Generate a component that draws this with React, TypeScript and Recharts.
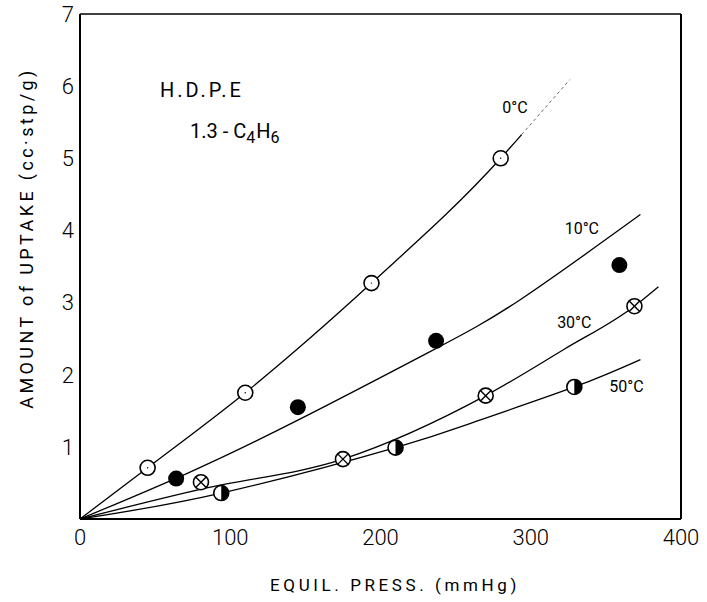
import React from 'react';
import {
  ComposedChart,
  Line,
  Scatter,
  XAxis,
  YAxis,
  ReferenceLine,
  ReferenceDot,
} from 'recharts';

type Pt = { x: number; y: number };

const pressureTicks = [0, 100, 200, 300, 400];
const uptakeTicks = [1, 2, 3, 4, 5, 6, 7];

// measured points (mmHg, cc stp/g)
const points0C: Pt[] = [
  { x: 45, y: 0.71 },
  { x: 110, y: 1.75 },
  { x: 194, y: 3.27 },
  { x: 280, y: 5.0 },
];
const points10C: Pt[] = [
  { x: 64, y: 0.56 },
  { x: 145, y: 1.55 },
  { x: 237, y: 2.47 },
  { x: 359, y: 3.52 },
];
const points30C: Pt[] = [
  { x: 80.5, y: 0.51 },
  { x: 175, y: 0.83 },
  { x: 270, y: 1.71 },
  { x: 369, y: 2.95 },
];
const points50C: Pt[] = [
  { x: 94, y: 0.36 },
  { x: 210, y: 0.99 },
  { x: 329, y: 1.83 },
];

// drawn isotherm curves
const curve0C: Pt[] = [
  { x: 0, y: 0 },
  { x: 45, y: 0.71 },
  { x: 110, y: 1.75 },
  { x: 194, y: 3.27 },
  { x: 280, y: 5.0 },
  { x: 294, y: 5.33 },
];
const curve0CExtra: Pt[] = [
  { x: 294, y: 5.33 },
  { x: 326, y: 6.09 },
];
const curve10C: Pt[] = [
  { x: 0, y: 0 },
  { x: 71, y: 0.63 },
  { x: 145, y: 1.37 },
  { x: 233, y: 2.32 },
  { x: 293, y: 3.04 },
  { x: 373, y: 4.22 },
];
const curve30C: Pt[] = [
  { x: 0, y: 0 },
  { x: 82, y: 0.42 },
  { x: 175, y: 0.83 },
  { x: 270, y: 1.71 },
  { x: 322, y: 2.35 },
  { x: 369, y: 2.95 },
  { x: 385, y: 3.22 },
];
const curve50C: Pt[] = [
  { x: 0, y: 0 },
  { x: 94, y: 0.36 },
  { x: 210, y: 0.99 },
  { x: 266, y: 1.37 },
  { x: 329, y: 1.83 },
  { x: 373, y: 2.21 },
];

const FONT = 'Roboto, "Liberation Sans", sans-serif';
const R = 7.5;

const OpenMark = ({ cx, cy }: any) => (
  <g>
    <circle cx={cx} cy={cy} r={R} fill="#fff" stroke="#000" strokeWidth={1.6} />
    <circle cx={cx} cy={cy} r={0.7} fill="#000" />
  </g>
);

const FilledMark = ({ cx, cy }: any) => <circle cx={cx} cy={cy} r={R + 0.5} fill="#000" />;

const CrossMark = ({ cx, cy }: any) => {
  const d = R * 0.7;
  return (
    <g>
      <circle cx={cx} cy={cy} r={R} fill="#fff" stroke="#000" strokeWidth={1.6} />
      <line x1={cx - d} y1={cy - d} x2={cx + d} y2={cy + d} stroke="#000" strokeWidth={1.4} />
      <line x1={cx - d} y1={cy + d} x2={cx + d} y2={cy - d} stroke="#000" strokeWidth={1.4} />
    </g>
  );
};

const HalfMark = ({ cx, cy }: any) => (
  <g>
    <circle cx={cx} cy={cy} r={R} fill="#fff" stroke="#000" strokeWidth={1.6} />
    <path d={`M${cx},${cy - R} A${R},${R} 0 0 1 ${cx},${cy + R} Z`} fill="#000" />
  </g>
);

const textLabel = (text: string, size = 16) => ({ cx, cy }: any) => (
  <text
    x={cx}
    y={cy}
    textAnchor="middle"
    dominantBaseline="central"
    fontSize={size}
    fontFamily={FONT}
    fill="#000"
  >
    {text}
  </text>
);

const hdpeLabel = ({ cx, cy }: any) => (
  <text x={cx} y={cy} fontSize={20} fontFamily={FONT} letterSpacing={3} fill="#000">
    H.D.P.E
  </text>
);

const formulaLabel = ({ cx, cy }: any) => (
  <text x={cx} y={cy} fontSize={20} fontFamily={FONT} fill="#000">
    <tspan>1.3 - C</tspan>
    <tspan fontSize={16} dy={5}>4</tspan>
    <tspan dy={-5} dx={1}>H</tspan>
    <tspan fontSize={16} dy={5}>6</tspan>
  </text>
);

const YTitle = ({ viewBox }: any) => {
  const x = viewBox.x + 6;
  const y = viewBox.y + 224;
  return (
    <text
      x={x}
      y={y}
      transform={`rotate(-90, ${x}, ${y})`}
      textAnchor="middle"
      dominantBaseline="central"
      fontSize={18}
      letterSpacing={3.4}
      fontFamily={FONT}
      fill="#000"
    >
      AMOUNT of UPTAKE (cc·stp/g)
    </text>
  );
};

const XTitle = ({ viewBox }: any) => (
  <text
    x={viewBox.x + 315}
    y={viewBox.y + 72}
    textAnchor="middle"
    fontSize={17}
    letterSpacing={3.6}
    fontFamily={FONT}
    fill="#000"
  >
    EQUIL. PRESS. (mmHg)
  </text>
);

const curveProps = {
  type: 'natural' as const,
  dataKey: 'y',
  stroke: '#000',
  strokeWidth: 1.3,
  dot: false,
  activeDot: false,
  isAnimationActive: false,
};

export default function App() {
  return (
    <div style={{ position: 'absolute', left: 0, top: 0, width: 707, height: 602, background: '#fff' }}>
      <ComposedChart width={707} height={602} margin={{ top: 14, right: 26, left: 20, bottom: 24 }}>
        <XAxis
          type="number"
          dataKey="x"
          domain={[0, 400]}
          ticks={pressureTicks}
          allowDataOverflow
          height={59}
          tickSize={0}
          tickMargin={10}
          tickLine={false}
          axisLine={{ stroke: '#000', strokeWidth: 2 }}
          tick={{ fill: '#000', fontSize: 22, fontFamily: FONT, fontWeight: 300 }}
          label={{ content: XTitle }}
        />
        <YAxis
          type="number"
          dataKey="y"
          domain={[0, 7]}
          ticks={uptakeTicks}
          allowDataOverflow
          width={60}
          tickSize={0}
          tickMargin={6}
          tickLine={false}
          axisLine={{ stroke: '#000', strokeWidth: 2 }}
          tick={{ fill: '#000', fontSize: 22, fontFamily: FONT, fontWeight: 300 }}
          label={{ content: YTitle }}
        />

        {/* frame */}
        <ReferenceLine y={7} stroke="#000" strokeWidth={1.5} />
        <ReferenceLine x={400} stroke="#000" strokeWidth={2} />

        <Line data={curve0C} {...curveProps} type="monotone" />
        <Line data={curve0CExtra} {...curveProps} stroke="#666" strokeWidth={1} strokeDasharray="3 3" />
        <Line data={curve10C} {...curveProps} />
        <Line data={curve30C} {...curveProps} type="monotone" />
        <Line data={curve50C} {...curveProps} />

        <Scatter data={points0C} dataKey="y" shape={OpenMark} isAnimationActive={false} />
        <Scatter data={points10C} dataKey="y" shape={FilledMark} isAnimationActive={false} />
        <Scatter data={points30C} dataKey="y" shape={CrossMark} isAnimationActive={false} />
        <Scatter data={points50C} dataKey="y" shape={HalfMark} isAnimationActive={false} />

        <ReferenceDot x={289.5} y={5.71} r={0} shape={textLabel('0°C', 16)} />
        <ReferenceDot x={334} y={4.02} r={0} shape={textLabel('10°C')} />
        <ReferenceDot x={329} y={2.73} r={0} shape={textLabel('30°C')} />
        <ReferenceDot x={363.7} y={1.84} r={0} shape={textLabel('50°C')} />
        <ReferenceDot x={53.2} y={5.85} r={0} shape={hdpeLabel} />
        <ReferenceDot x={73.2} y={5.28} r={0} shape={formulaLabel} />
      </ComposedChart>
    </div>
  );
}
